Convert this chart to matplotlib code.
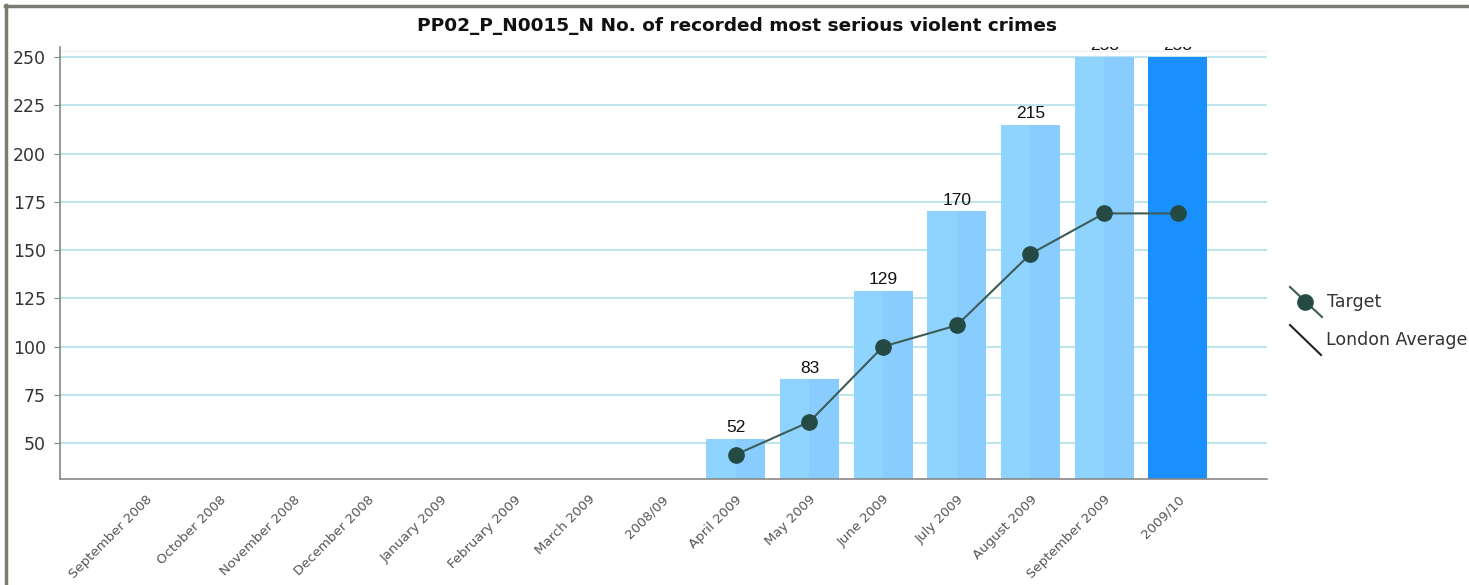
import numpy as np
import matplotlib.pyplot as plt
import matplotlib.transforms as mtransforms
from matplotlib.lines import Line2D
from matplotlib.patches import Rectangle

# categorias y valores
categorias = ["September 2008", "October 2008", "November 2008", "December 2008",
              "January 2009", "February 2009", "March 2009", "2008/09",
              "April 2009", "May 2009", "June 2009", "July 2009", "August 2009",
              "September 2009", "2009/10"]
crimenes = [None, None, None, None, None, None, None, None,
            52, 83, 129, 170, 215, 258, 258]
objetivo = [None, None, None, None, None, None, None, None,
            44, 61, 100, 111, 148, 169, 169]
etiquetas_y = [50, 75, 100, 125, 150, 175, 200, 225, 250]

W, H = 1469, 585
fig = plt.figure(figsize=(W/100, H/100), dpi=100)
ax = fig.add_axes([60/W, 1 - 479/H, (1267 - 60)/W, (479 - 47)/H])

x = np.arange(len(categorias))
y_min, y_max = 31.4, 255.2
ax.set_xlim(-1.17, 15.21)
ax.set_ylim(y_min, y_max)

for yv in etiquetas_y:
    ax.axhline(yv, color="#bfe6ee", lw=1.5, zorder=0)
ax.axhline(253, color="#f0f0f0", lw=1, zorder=0)

# las barras se cortan en el tope de la escala (250)
recorte = Rectangle((-5, y_min), 30, 250 - y_min, transform=ax.transData, visible=False)
ax.add_patch(recorte)

ancho = 0.8
for i, v in enumerate(crimenes):
    if v is None:
        continue
    if categorias[i] == "2009/10":
        b = ax.bar(x[i], v, width=ancho, color="#1a90ff", zorder=2)
    else:
        b = ax.bar(x[i] - ancho/2, v, width=ancho/2, align="edge", color="#8fd4ff", zorder=2)
        for p in b:
            p.set_clip_path(recorte)
        b = ax.bar(x[i], v, width=ancho/2, align="edge", color="#88cdfd", zorder=2)
    for p in b:
        p.set_clip_path(recorte)
    ax.text(x[i], min(v, 250) + 2.0, str(v), ha="center", va="bottom",
            fontsize=12.5, family="Liberation Sans", color="#111111", zorder=4,
            clip_on=True)

xo = [x[i] for i, v in enumerate(objetivo) if v is not None]
yo = [v for v in objetivo if v is not None]
ax.plot(xo, yo, color="#3d5c58", lw=1.5, marker="o", markersize=11,
        markerfacecolor="#254a44", markeredgecolor="#254a44", zorder=3)

ax.set_yticks(etiquetas_y)
ax.set_yticklabels([str(v) for v in etiquetas_y], fontsize=12.5, color="#333333")
ax.set_xticks(x)
ax.set_xticklabels(categorias, rotation=45, ha="right", rotation_mode="anchor",
                   fontsize=9.5, color="#555555")
desplaza = mtransforms.ScaledTranslation(10/100, 2/100, fig.dpi_scale_trans)
for lab in ax.get_xticklabels():
    lab.set_transform(lab.get_transform() + desplaza)
ax.tick_params(axis="y", length=4, color="#888888", pad=6)
ax.tick_params(axis="x", length=0, pad=10)
for s in ["top", "right"]:
    ax.spines[s].set_visible(False)
for s in ["left", "bottom"]:
    ax.spines[s].set_color("#888888")
    ax.spines[s].set_linewidth(1.2)
ax.patch.set_alpha(0)

fig.text(737/W, 1 - 26/H, "PP02_P_N0015_N No. of recorded most serious violent crimes",
         ha="center", va="center", fontsize=13.3, fontweight="bold", color="#111111")

# leyenda a mano
fig.add_artist(Line2D([1290/W, 1322/W], [1 - 287/H, 1 - 317/H], color="#3d5c58", lw=1.5))
fig.add_artist(Line2D([1305/W], [1 - 302/H], marker="o", markersize=11, color="#254a44"))
fig.text(1327/W, 1 - 302/H, "Target", fontsize=12.5, va="center", color="#333333")
fig.add_artist(Line2D([1290/W, 1321/W], [1 - 325/H, 1 - 355/H], color="#222222", lw=1.5))
fig.text(1326/W, 1 - 340/H, "London Average", fontsize=12.5, va="center", color="#333333")

# marco gris
fig.add_artist(Line2D([5.5/W, 5.5/W], [0, 1 - 5/H], color="#7b7b70", lw=2.5))
fig.add_artist(Line2D([5/W, 1], [1 - 6/H, 1 - 6/H], color="#7b7b70", lw=2.5))

fig.savefig("out.png", dpi=100)
